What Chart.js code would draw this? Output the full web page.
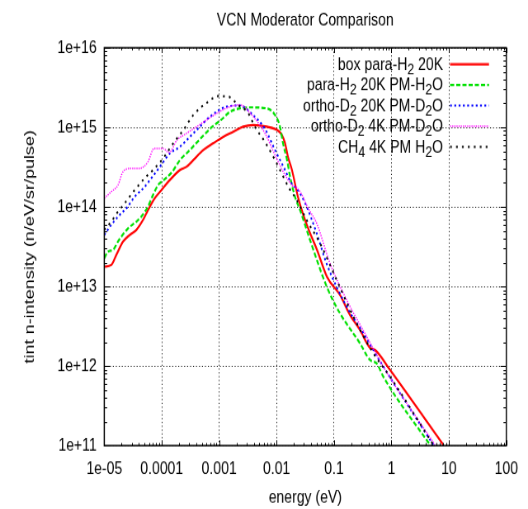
<!DOCTYPE html>
<html>
<head>
<meta charset="utf-8">
<title>VCN Moderator Comparison</title>
<script src="https://cdn.jsdelivr.net/npm/chart.js@4.4.1/dist/chart.umd.min.js"></script>
<style>
  html, body { margin: 0; padding: 0; background: #fff; }
  canvas { display: block; }
</style>
</head>
<body>
<!-- drawn at 640x480 like the original gnuplot png, then stretched to 528x509 -->
<canvas id="vcn" width="640" height="480" style="width:528px;height:509px"></canvas>
<script>
// data: energy (eV) and tint n-intensity (n/eV/sr/pulse)
const boxE = [1.0e-5, 1.32e-5, 1.62e-5, 2.12e-5, 2.77e-5, 3.61e-5, 4.72e-5, 5.77e-5, 7.54e-5, 9.33e-5, 1.39e-4, 2.08e-4, 2.72e-4, 3.55e-4, 5.30e-4, 7.91e-4, 1.18e-3, 1.76e-3, 2.63e-3, 3.93e-3, 6.73e-3, 1.02e-2, 1.24e-2, 1.40e-2, 1.58e-2, 1.85e-2, 2.36e-2, 3.13e-2, 3.82e-2, 5.06e-2, 7.55e-2, 0.127, 0.190, 0.283, 0.424, 0.518, 0.944, 8.0];
const boxI = [1.77e13, 1.86e13, 2.49e13, 3.66e13, 4.44e13, 5.13e13, 6.84e13, 9.14e13, 1.28e14, 1.55e14, 2.18e14, 2.91e14, 3.20e14, 3.88e14, 5.19e14, 6.30e14, 7.62e14, 8.81e14, 1.02e15, 1.07e15, 1.02e15, 9.25e14, 8.0e14, 6.35e14, 4.24e14, 2.91e14, 1.33e14, 6.84e13, 4.70e13, 2.88e13, 1.32e13, 7.82e12, 4.38e12, 2.84e12, 1.69e12, 1.59e12, 8.93e11, 1.02e11];

const pH2E = [1.0e-5, 1.16e-5, 1.42e-5, 1.73e-5, 2.59e-5, 3.61e-5, 4.41e-5, 5.77e-5, 7.05e-5, 8.61e-5, 1.0e-4, 1.51e-4, 2.08e-4, 3.10e-4, 5.02e-4, 7.50e-4, 1.08e-3, 1.55e-3, 2.31e-3, 3.44e-3, 6.73e-3, 9.38e-3, 1.15e-2, 1.29e-2, 1.52e-2, 1.72e-2, 2.10e-2, 2.56e-2, 3.82e-2, 7.46e-2, 0.127, 0.283, 0.424, 0.553, 0.721, 4.69];
const pH2I = [2.26e13, 2.74e13, 2.88e13, 3.66e13, 5.38e13, 6.52e13, 7.54e13, 1.01e14, 1.41e14, 1.88e14, 2.07e14, 2.74e14, 3.88e14, 5.19e14, 7.55e14, 1.01e15, 1.24e15, 1.57e15, 1.73e15, 1.78e15, 1.73e15, 1.43e15, 1.01e15, 6.35e14, 3.88e14, 2.38e14, 1.33e14, 9.14e13, 3.84e13, 9.94e12, 4.60e12, 1.93e12, 1.19e12, 1.08e12, 7.36e11, 1.02e11];

const oD2E = [1.0e-5, 1.32e-5, 1.73e-5, 2.42e-5, 3.38e-5, 5.04e-5, 6.25e-5, 9.33e-5, 1.39e-4, 2.08e-4, 3.10e-4, 4.63e-4, 6.93e-4, 1.35e-3, 2.31e-3, 3.58e-3, 6.28e-3, 9.38e-3, 1.35e-2, 1.85e-2, 2.26e-2, 3.13e-2, 4.99e-2, 7.46e-2, 0.166, 0.324, 0.721, 5.36];
const oD2I = [4.44e13, 5.93e13, 7.54e13, 9.60e13, 1.34e14, 1.79e14, 2.18e14, 3.20e14, 4.71e14, 5.71e14, 7.62e14, 1.02e15, 1.36e15, 1.82e15, 1.88e15, 1.51e15, 9.52e14, 5.19e14, 3.08e14, 1.94e14, 1.68e14, 1.12e14, 4.66e13, 1.92e13, 5.57e12, 2.58e12, 9.83e11, 1.02e11];

const oD2coldE = [1.0e-5, 1.32e-5, 1.73e-5, 2.12e-5, 2.95e-5, 4.13e-5, 5.77e-5, 7.32e-5, 1.05e-4, 1.34e-4, 1.85e-4, 2.72e-4, 4.06e-4, 6.07e-4, 9.06e-4, 1.55e-3, 2.31e-3, 3.58e-3, 6.28e-3, 9.38e-3, 1.40e-2, 1.85e-2, 2.26e-2, 2.77e-2, 3.52e-2, 4.99e-2, 8.51e-2, 0.166, 0.371, 0.721, 5.73];
const oD2coldI = [1.28e14, 1.55e14, 1.88e14, 2.77e14, 3.05e14, 3.05e14, 3.70e14, 5.42e14, 5.44e14, 4.82e14, 6.93e14, 8.41e14, 1.02e15, 1.24e15, 1.50e15, 1.82e15, 1.91e15, 1.47e15, 8.41e14, 4.49e14, 2.52e14, 1.88e14, 1.73e14, 1.41e14, 9.69e13, 6.22e13, 1.95e13, 6.77e12, 2.34e12, 9.83e11, 1.02e11];

const ch4E = [1.0e-5, 1.32e-5, 1.73e-5, 2.26e-5, 3.38e-5, 5.04e-5, 7.32e-5, 1.06e-4, 1.59e-4, 2.38e-4, 3.55e-4, 6.47e-4, 9.66e-4, 1.44e-3, 2.15e-3, 3.21e-3, 4.21e-3, 6.28e-3, 9.38e-3, 1.29e-2, 1.64e-2, 2.24e-2, 3.34e-2, 5.70e-2, 0.111, 0.217, 0.483, 0.944, 5.36];
const ch4I = [5.13e13, 6.52e13, 8.71e13, 1.11e14, 1.63e14, 2.29e14, 2.99e14, 4.08e14, 6.30e14, 9.25e14, 1.43e15, 2.10e15, 2.47e15, 2.43e15, 1.91e15, 1.50e15, 1.01e15, 6.54e14, 3.88e14, 2.44e14, 1.73e14, 1.22e14, 6.84e13, 3.49e13, 1.21e13, 4.18e12, 1.45e12, 7.36e11, 1.02e11];

const seriesNames = ['box para-H2 20K', 'para-H2 20K PM-H2O', 'ortho-D2 20K PM-D2O', 'ortho-D2 4K PM-D2O', 'CH4 4K PM H2O'];
// key text in gnuplot markup, _x = subscript
const keyText = ['box para-H_2 20K', 'para-H_2 20K PM-H_2O', 'ortho-D_2 20K PM-D_2O', 'ortho-D_2 4K PM-D_2O', 'CH_4 4K PM H_2O'];

const xTickVals = [1e-5, 1e-4, 1e-3, 1e-2, 1e-1, 1, 10, 100];
const xTickText = ['1e-05', '0.0001', '0.001', '0.01', '0.1', '1', '10', '100'];
const yTickVals = [1e11, 1e12, 1e13, 1e14, 1e15, 1e16];
const yTickText = ['1e+11', '1e+12', '1e+13', '1e+14', '1e+15', '1e+16'];

const FONT = "'Liberation Sans', Arial, Helvetica, sans-serif";

function pairs(xs, ys) {
    return xs.map((x, i) => ({x: x, y: ys[i]}));
}

// split "para-H_2 20K" into plain / subscript runs
function keyParts(s) {
    let out = [], buf = '';
    for (let i = 0; i < s.length; i++) {
        if (s[i] === '_') {
            if (buf) out.push({t: buf, sub: false});
            out.push({t: s[i + 1], sub: true});
            buf = '';
            i++;
        } else {
            buf += s[i];
        }
    }
    if (buf) out.push({t: buf, sub: false});
    return out;
}

// gnuplot look: inward ticks on all four sides, solid border, key top right
const gnuFrame = {
    id: 'gnuFrame',
    afterDatasetsDraw(chart) {
        const {ctx, chartArea: a, scales: {x, y}} = chart;
        ctx.save();
        ctx.strokeStyle = '#000';
        ctx.lineWidth = 1;
        ctx.setLineDash([]);
        ctx.beginPath();
        for (let d = -5; d <= 2; d++) {
            for (let k = 1; k <= 9; k++) {
                const v = k * Math.pow(10, d);
                if (v > 100.0001) break;
                const px = Math.round(x.getPixelForValue(v)) + 0.5;
                const len = k === 1 ? 5 : 2.5;
                ctx.moveTo(px, a.bottom); ctx.lineTo(px, a.bottom - len);
                ctx.moveTo(px, a.top); ctx.lineTo(px, a.top + len);
            }
        }
        for (let d = 11; d <= 16; d++) {
            for (let k = 1; k <= 9; k++) {
                const v = k * Math.pow(10, d);
                if (v > 1.0001e16) break;
                const py = Math.round(y.getPixelForValue(v)) + 0.5;
                const len = k === 1 ? 7 : 3.5;
                ctx.moveTo(a.left, py); ctx.lineTo(a.left + len, py);
                ctx.moveTo(a.right, py); ctx.lineTo(a.right - len, py);
            }
        }
        ctx.stroke();
        ctx.lineWidth = 1.5;
        ctx.strokeRect(a.left, a.top, a.right - a.left, a.bottom - a.top);

        // key
        const textRight = 537, lineL = 545.5, lineR = 592.7;
        chart.data.datasets.forEach((ds, i) => {
            const rowY = 60.2 + 19.43 * i;
            const base = rowY + 5.6;
            const parts = keyParts(keyText[i]);
            let w = 0;
            parts.forEach(p => {
                ctx.font = (p.sub ? '15px ' : '17px ') + FONT;
                p.w = ctx.measureText(p.t).width;
                w += p.w;
            });
            let tx = textRight - w;
            ctx.fillStyle = '#000';
            ctx.textAlign = 'left';
            ctx.textBaseline = 'alphabetic';
            parts.forEach(p => {
                ctx.font = (p.sub ? '15px ' : '17px ') + FONT;
                ctx.fillText(p.t, tx, p.sub ? base + 4 : base);
                tx += p.w;
            });
            ctx.strokeStyle = ds.borderColor;
            ctx.lineWidth = ds.borderWidth;
            ctx.setLineDash(ds.borderDash || []);
            ctx.beginPath();
            ctx.moveTo(lineL, rowY + 0.5);
            ctx.lineTo(lineR, rowY + 0.5);
            ctx.stroke();
        });
        ctx.restore();
    }
};

Chart.defaults.font.family = FONT;
Chart.defaults.font.size = 17;
Chart.defaults.color = '#000';

const lineStyle = {
    showLine: true,
    pointRadius: 0,
    pointHoverRadius: 0,
    fill: false,
    cubicInterpolationMode: 'monotone'
};

new Chart(document.getElementById('vcn').getContext('2d'), {
    type: 'scatter',
    data: {
        datasets: [
            Object.assign({label: seriesNames[0], data: pairs(boxE, boxI), borderColor: '#ff0000', borderWidth: 2.2, order: 4}, lineStyle),
            Object.assign({label: seriesNames[1], data: pairs(pH2E, pH2I), borderColor: '#00e000', borderWidth: 2.2, borderDash: [5, 2.5], order: 3}, lineStyle),
            Object.assign({label: seriesNames[2], data: pairs(oD2E, oD2I), borderColor: '#0000ff', borderWidth: 2, borderDash: [2.2, 3], order: 2}, lineStyle),
            Object.assign({label: seriesNames[3], data: pairs(oD2coldE, oD2coldI), borderColor: '#ff00ff', borderWidth: 1.5, borderDash: [1.3, 1.3], order: 1}, lineStyle),
            Object.assign({label: seriesNames[4], data: pairs(ch4E, ch4I), borderColor: '#000000', borderWidth: 2, borderDash: [2.2, 5], order: 0}, lineStyle)
        ]
    },
    options: {
        responsive: false,
        devicePixelRatio: 1,
        animation: false,
        events: [],
        layout: {padding: {left: 0, right: 26.3, top: 0, bottom: 0}},
        plugins: {
            legend: {display: false},
            tooltip: {enabled: false},
            title: {
                display: true,
                text: 'VCN Moderator Comparison',
                fullSize: false,
                color: '#000',
                font: {size: 17, weight: 'normal'},
                padding: {top: 9, bottom: 15.6}
            }
        },
        scales: {
            x: {
                type: 'logarithmic',
                min: 1e-5,
                max: 100,
                afterBuildTicks: s => { s.ticks = xTickVals.map(v => ({value: v})); },
                afterFit: s => { s.height = 59.8; },
                ticks: {
                    autoSkip: false,
                    maxRotation: 0,
                    padding: 11.6,
                    callback: (v, i) => xTickText[i]
                },
                grid: {color: '#222', lineWidth: 1, drawTicks: false},
                border: {display: false, dash: [1.2, 2.4]},
                title: {display: true, text: 'energy (eV)', font: {size: 17}, padding: {top: 0, bottom: 0}}
            },
            y: {
                type: 'logarithmic',
                min: 1e11,
                max: 1e16,
                afterBuildTicks: s => { s.ticks = yTickVals.map(v => ({value: v})); },
                afterFit: s => { s.width = 126.4; },
                ticks: {
                    autoSkip: false,
                    padding: 9.2,
                    callback: (v, i) => yTickText[i]
                },
                grid: {color: '#222', lineWidth: 1, drawTicks: false},
                border: {display: false, dash: [1.2, 2.4]},
                title: {display: true, text: 'tint n-intensity (n/eV/sr/pulse)', font: {size: 17}, padding: {top: 26, bottom: 0}}
            }
        }
    },
    plugins: [gnuFrame]
});
</script>
</body>
</html>
